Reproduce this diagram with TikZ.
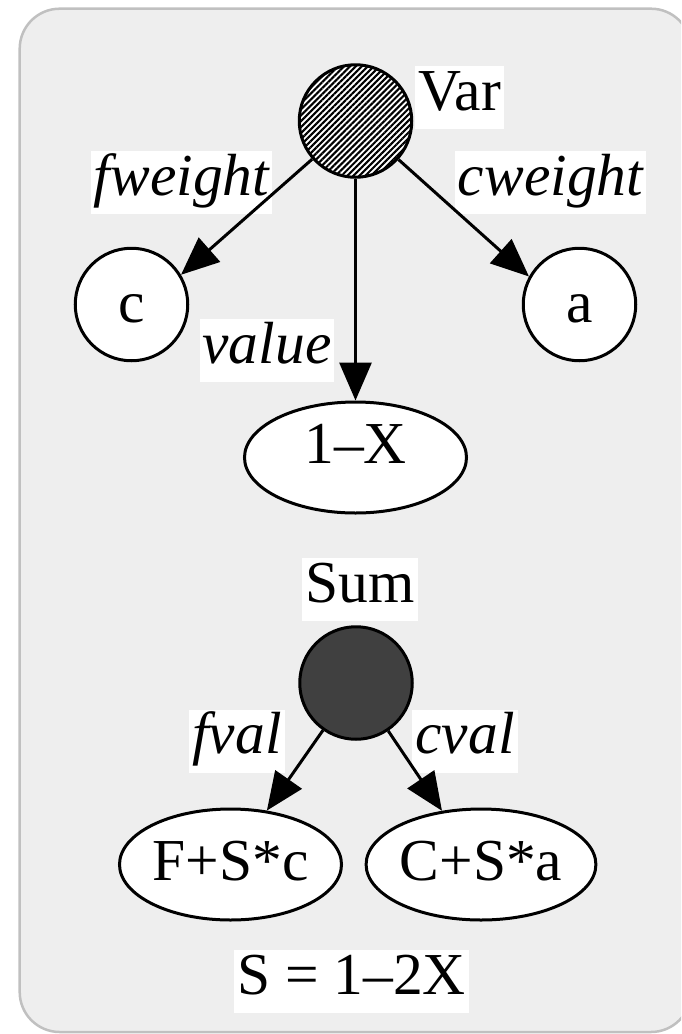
\documentclass[tikz,border=0pt]{standalone}
\usepackage{fontspec}
\setmainfont{Liberation Serif}
\usetikzlibrary{arrows.meta,shapes.geometric,patterns.meta}
\definecolor{bgfill}{HTML}{EEEEEE}
\definecolor{bgline}{HTML}{C0C0C0}
\definecolor{darkfill}{HTML}{404040}
\begin{document}
\begin{tikzpicture}[x=1pt,y=-1pt,
  every node/.style={font=\fontsize{59.5}{62}\selectfont},
  circnode/.style={circle, draw, line width=3pt, fill=white, minimum size=112.5pt, inner sep=0pt},
  ellnode/.style={ellipse, draw, line width=3pt, fill=white, minimum width=222pt, minimum height=111pt, inner sep=0pt},
  lbl/.style={fill=white, inner xsep=3pt, inner ysep=2pt, text height=42pt, text depth=17pt},
  ilbl/.style={lbl, font=\fontsize{59.5}{62}\selectfont\itshape},
  conn/.style={-{Triangle[length=38pt,width=32pt]}, line width=3pt}
]
\useasboundingbox (0,0) rectangle (681,1034);
\clip (0,0) rectangle (681,1034);
\draw[bgline, fill=bgfill, line width=2.5pt, rounded corners=40pt] (19.7,8.7) rectangle (691,1032);

% shape nodes
\node[circnode, postaction={pattern={Lines[angle=45,distance=4.2pt,line width=2.1pt]}}] (var) at (355.5,121) {};
\node[circnode, text height=40pt, text depth=5pt] (c) at (131.5,304.5) {c};
\node[circnode, text height=40pt, text depth=5pt] (a) at (579.5,304.5) {a};
\node[ellnode, text height=20pt, text depth=9pt] (onex) at (355.5,457.5) {1–X};
\node[circnode, fill=darkfill] (sum) at (356,683) {};
\node[ellnode, text height=40pt, text depth=9pt] (fsc) at (230.5,864.5) {F+S*c};
\node[ellnode, text height=40pt, text depth=9pt] (csa) at (481,864.5) {C+S*a};

% labels
\node[lbl] (varl) at (459.5,97.5) {Var};
\node[ilbl] (fwl) at (181.5,182.5) {fweight};
\node[ilbl] (cwl) at (550.5,182.5) {cweight};
\node[ilbl] (vall) at (267,350.5) {value};
\node[lbl] (suml) at (360,589.5) {Sum};
\node[ilbl] (fvl) at (237,741) {fval};
\node[ilbl] (cvl) at (465,741) {cval};
\node[lbl] (sdef) at (351.5,981.5) {S = 1–2X};

% connectors
\draw[conn] (var) -- (c.31);
\draw[conn] (var) -- (onex);
\draw[conn] (var) -- (a.151);
\draw[conn] (sum) -- (fsc.56);
\draw[conn] (sum) -- (csa.126);
\end{tikzpicture}
\end{document}
